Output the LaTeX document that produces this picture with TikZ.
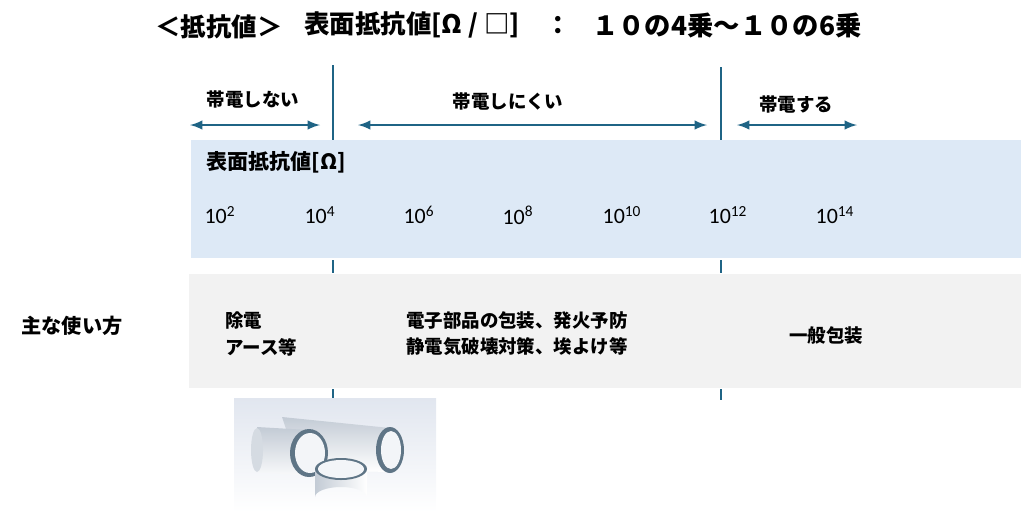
\documentclass[tikz,border=0pt]{standalone}
\usepackage{fontspec}
\setmainfont{Noto Sans CJK JP}
\newfontfamily\numfont{Carlito}
\definecolor{barblue}{HTML}{1F6485}
\definecolor{bandblue}{HTML}{DDE9F6}
\definecolor{bandgrey}{HTML}{F2F2F2}
\definecolor{phototop}{HTML}{E1E6EF}
\definecolor{rollring}{HTML}{5F7586}
\definecolor{rollside}{HTML}{C3CBD5}
\definecolor{rollcore}{HTML}{F3F5F8}
\begin{document}
\begin{tikzpicture}[x=0.02cm,y=-0.02cm,>=latex,
	markline/.style={draw=barblue,line width=1.5pt},
	spanarrow/.style={<->,draw=barblue,line width=1.4pt},
	lab/.style={font=\fontsize{10.5}{12}\selectfont\bfseries},
	num/.style={font=\fontsize{12.5}{14}\numfont},
	use/.style={font=\fontsize{10.5}{12}\selectfont\bfseries,anchor=west},
	head/.style={font=\fontsize{14.5}{16}\selectfont\bfseries,anchor=west}]
\useasboundingbox (0,0) rectangle (1024,512);
% title
\node[head] (tname) at (149,27) {＜抵抗値＞};
\node[head] (tunit) at (298,25) {表面抵抗値[Ω / □]};
\node[head] (tcolon) at (539,25) {：};
\node[head,font=\fontsize{15}{16}\selectfont\bfseries] (tval) at (586,25) {１０の4乗～１０の6乗};
% bands
\fill[bandblue] (191,140) rectangle (1021,258);
\fill[bandgrey] (189,274) rectangle (1021,388);
% borders
\foreach \x/\t in {333/65,721/67} {
	\draw[markline] (\x,\t) -- (\x,140);
	\draw[markline] (\x,260) -- (\x,273);
	\draw[markline] (\x,389) -- (\x,400);
}
% ranges
\coordinate (nol) at (190,125);
\coordinate (nor) at (320,125);
\coordinate (lowl) at (358,125);
\coordinate (lowr) at (707,125);
\coordinate (hil) at (737,125);
\coordinate (hir) at (857,125);
\draw[spanarrow] (nol) -- (nor);
\draw[spanarrow] (lowl) -- (lowr);
\draw[spanarrow] (hil) -- (hir);
\node[lab] (none) at (253,99) {帯電しない};
\node[lab] (low) at (508,101) {帯電しにくい};
\node[lab] (high) at (796,104) {帯電する};
% scale
\node[anchor=west,font=\fontsize{12}{14}\selectfont\bfseries] (axis) at (200,162) {表面抵抗値[Ω]};
\foreach \e/\x in {2/220,4/320,6/419,8/518,10/622,12/728,14/835}
	\node[num] (p\e) at (\x,215) {10\textsuperscript{\e}};
% uses
\node[font=\fontsize{11.5}{13}\selectfont\bfseries] (uses) at (72,326) {主な使い方};
\node[use] (earth) at (219,320) {除電};
\node[use] (earthb) at (219,347) {アース等};
\node[use] (pack) at (400,320) {電子部品の包装、発火予防};
\node[use] (packb) at (400,347) {静電気破壊対策、埃よけ等};
\node[lab] (general) at (826,335) {一般包装};
% photo
\begin{scope}
\clip (234,398) rectangle (436,512);
\shade[top color=phototop,bottom color=white] (234,398) rectangle (436,512);
% back roll
\shade[top color=rollside,bottom color=white] (282,417) -- (390,428) -- (390,472) -- (300,470) -- cycle;
\fill[rollring] (390,450) ellipse[x radius=14,y radius=23];
\fill[rollcore] (391,450) ellipse[x radius=10,y radius=19];
% left roll
\shade[top color=rollside,bottom color=white!90!rollside] (257,427) -- (309,430) -- (309,476) -- (258,472) -- cycle;
\fill[rollside!70!white] (257,450) ellipse[x radius=6,y radius=22];
\fill[rollring] (309,453) ellipse[x radius=19,y radius=24];
\fill[rollcore] (310,453) ellipse[x radius=15,y radius=20];
% front roll
\shade[left color=rollside,right color=white] (315,469) -- (367,469) -- (367,497) arc[start angle=0,end angle=-180,x radius=26,y radius=10] -- cycle;
\fill[rollring] (341,469) ellipse[x radius=26,y radius=11];
\fill[rollcore] (341,469) ellipse[x radius=23,y radius=9];
\end{scope}
\end{tikzpicture}
\end{document}
